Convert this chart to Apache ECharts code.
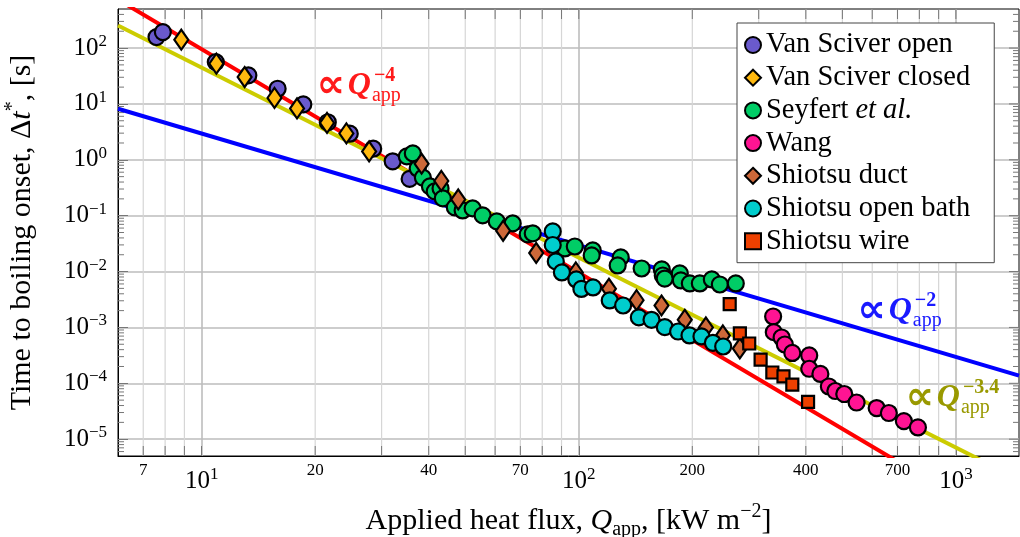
<!DOCTYPE html>
<html><head><meta charset="utf-8">
<script src="https://cdn.jsdelivr.net/npm/echarts@6/dist/echarts.min.js"></script>
<style>html,body{margin:0;padding:0;background:#fff}#c{width:1020px;height:537px}</style>
</head><body><div id="c"></div><script>
// ---- data (Q_app [kW m^-2], Δt* [s]) ----
const vanSciverOpen = [[7.59,157],[7.89,193],[10.9,56],[13.3,32.5],[15.9,18.7],[18.6,9.8],[21.6,4.7],[24.7,2.93],[28.5,1.58],[32.1,0.94],[35.6,0.455]];
const vanSciverClosed = [[8.83,141],[10.94,52.6],[13.0,30.3],[15.6,12.8],[17.9,8.3],[21.5,4.58],[24.2,2.97],[27.8,1.41]];
const seyfert = [[35.0,1.15],[36.3,1.30],[37.4,0.70],[38.6,0.48],[40.3,0.334],[41.5,0.272],[43.0,0.308],[43.6,0.204],[46.9,0.141],[49.2,0.124],[52.3,0.135],[55.6,0.101],[60.6,0.0789],[66.8,0.0727],[73.2,0.0462],[75.5,0.0482],[91.8,0.0259],[97.6,0.0281],[108.9,0.0239],[108.2,0.0194],[129.2,0.0179],[126.8,0.01285],[146.8,0.01135],[166,0.0109],[167,0.0085],[169,0.0075],[185.3,0.00924],[186.5,0.00693],[197,0.00612],[209.4,0.00612],[225.3,0.00722],[236.6,0.00587],[260.8,0.00612]];
const wang = [[327.6,0.00157],[328.9,0.000822],[345,0.000661],[351.9,0.000495],[368.3,0.000349],[408.4,0.000315],[408.4,0.000182],[437.2,0.000147],[460.4,8.77e-5],[479,7.28e-5],[505.8,6.43e-5],[545.3,4.53e-5],[616.4,3.61e-5],[664,2.94e-5],[727.8,2.11e-5],[793,1.62e-5]];
const shiotsuDuct = [[38.3,0.851],[43.2,0.419],[47.9,0.195],[63.0,0.0537],[77.1,0.0215],[98.2,0.00964],[120.2,0.00492],[142.3,0.00308],[165.7,0.00247],[191,0.00137],[217.3,0.000998],[241,0.000718],[267.3,0.00042]];
const shiotsuOpenBath = [[85.3,0.0522],[85.3,0.0299],[86.9,0.0152],[90.2,0.00964],[98.5,0.00722],[101.6,0.00488],[109.1,0.00519],[120.8,0.00304],[131.1,0.00247],[144.3,0.00151],[155.9,0.00137],[169.1,0.00101],[183.4,0.000845],[196.6,0.000718],[211.5,0.000689],[226.8,0.000531],[241.5,0.000456]];
const shiotsuWire = [[251.3,0.00261],[267.4,0.00078],[283.1,0.000516],[303.5,0.000265],[326,0.000156],[349,0.000133],[368.3,9.44e-5],[405.5,4.67e-5]];
// fit lines (end points)
const fitQ4 = [[6,736],[1470,2.05e-7]];
const fitQ34 = [[6,254],[1470,1.91e-6]];
const fitQ2 = [[6,8.2],[1470,1.37e-4]];
// annotation anchors
const labQ4 = [28.1,21.5], labQ2 = [763.9,0.00201], labQ34 = [1025,5.57e-5];
// axes / ticks
const xMin = 6, xMax = 1470, yMin = 5e-6, yMax = 500;
const xMajorTicks = [10,100,1000];
const xMinorTicks = [7,8,9,20,30,40,50,60,70,80,90,200,300,400,500,600,700,800,900];
const xMinorLabels = [7,20,40,70,200,400,700];
const yMajorTicks = [1e-5,1e-4,1e-3,1e-2,1e-1,1,10,100];
const yMinorTicks = [];
for (let d = -6; d <= 2; d++) for (let k = 2; k <= 9; k++) { const v = k * Math.pow(10, d); if (v > yMin * 1.0001 && v < yMax) yMinorTicks.push(+v.toPrecision(3)); }

const FONT = '"Liberation Serif", "DejaVu Serif", serif';
const chart = echarts.init(document.getElementById('c'));

function powLabel(v) {
  const e = Math.log10(v), r = Math.round(e);
  if (Math.abs(e - r) > 1e-6) return '';
  return '10{s|' + (r < 0 ? '\u2212' + (-r) : r) + '}';
}
const tickRich = { s: { fontSize: 17, fontFamily: FONT, verticalAlign: 'top', color: '#000', lineHeight: 30 } };

const xDeco = xMinorTicks.map(v => [v, 1, 0]).concat(xMajorTicks.map(v => [v, 1, 1]));
const yDeco = yMinorTicks.map(v => [10, v, 0]).concat(yMajorTicks.map(v => [10, v, 1]));

function annot(anchor, color, sup) {
  return {
    symbol: 'circle', symbolSize: 0, silent: true,
    data: [
      { coord: anchor, label: { show: true, position: 'inside', align: 'right', verticalAlign: 'middle', offset: [-26, 1],
        formatter: '\u221D', fontFamily: '"DejaVu Sans", sans-serif', fontSize: 40, fontWeight: 'bold', color } },
      { coord: anchor, label: { show: true, position: 'inside', align: 'right', verticalAlign: 'middle', offset: [0, 0],
        formatter: 'Q', fontFamily: FONT, fontSize: 32, fontWeight: 'bold', fontStyle: 'italic', color } },
      { coord: anchor, label: { show: true, position: 'inside', align: 'left', verticalAlign: 'middle', offset: [3, -10],
        formatter: sup, fontFamily: FONT, fontSize: 20, fontWeight: 'bold', color } },
      { coord: anchor, label: { show: true, position: 'inside', align: 'left', verticalAlign: 'middle', offset: [1, 10],
        formatter: 'app', fontFamily: FONT, fontSize: 20, color } }
    ]
  };
}

function scatter(name, data, symbol, size, color) {
  return { name, type: 'scatter', data, symbol, symbolSize: size, z: 5,
    itemStyle: { color, borderColor: '#000', borderWidth: 2.2, opacity: 1 }, emphasis: { disabled: true } };
}

const option = {
  animation: false,
  grid: { left: 118, right: 1, top: 9, bottom: 81, show: true, borderColor: '#000', borderWidth: 1, backgroundColor: 'transparent', containLabel: false, outerBoundsMode: 'none' },
  xAxis: {
    type: 'log', logBase: 10, min: xMin, max: xMax,
    axisLine: { show: true, lineStyle: { color: '#000', width: 1 } },
    axisTick: { show: true, inside: true, length: 10, lineStyle: { color: '#777' } },
    splitLine: { show: true, showMinLine: false, showMaxLine: false, lineStyle: { color: '#bdbdbd', width: 1.6 } },
    axisLabel: { margin: 10, formatter: powLabel, fontFamily: FONT, fontSize: 25, color: '#000', lineHeight: 30, rich: tickRich, showMinLabel: false, showMaxLabel: false },
    name: 'Applied heat flux, {i|Q}{sub|app}, [kW m{s|\u22122}]',
    nameLocation: 'middle', nameGap: 46,
    nameTextStyle: { fontFamily: FONT, fontSize: 30, color: '#000', lineHeight: 38, rich: {
      i: { fontFamily: FONT, fontSize: 30, fontStyle: 'italic', lineHeight: 38 },
      sub: { fontFamily: FONT, fontSize: 20, verticalAlign: 'bottom', lineHeight: 38 },
      s: { fontFamily: FONT, fontSize: 20, verticalAlign: 'top', lineHeight: 38 } } }
  },
  yAxis: {
    type: 'log', logBase: 10, min: yMin, max: yMax,
    axisLine: { show: true, lineStyle: { color: '#000', width: 1 } },
    axisTick: { show: true, inside: true, length: 10, lineStyle: { color: '#777' } },
    splitLine: { show: true, showMinLine: false, showMaxLine: false, lineStyle: { color: '#bdbdbd', width: 1.6 } },
    axisLabel: { margin: 11, formatter: powLabel, fontFamily: FONT, fontSize: 25, color: '#000', lineHeight: 30, rich: tickRich, showMinLabel: false, showMaxLabel: false },
    name: 'Time to boiling onset, \u0394{i|t}{s|*}, [s]',
    nameLocation: 'middle', nameGap: 77, nameRotate: 90,
    nameTextStyle: { fontFamily: FONT, fontSize: 30, color: '#000', lineHeight: 38, rich: {
      i: { fontFamily: FONT, fontSize: 30, fontStyle: 'italic', lineHeight: 38 },
      s: { fontFamily: FONT, fontSize: 20, verticalAlign: 'top', lineHeight: 38 } } }
  },
  legend: {
    orient: 'vertical', left: 737, top: 23, padding: [7.5, 24, 7, 7], itemGap: 3.7,
    itemWidth: 16, itemHeight: 16, borderColor: '#444', borderWidth: 1, backgroundColor: '#fff', borderRadius: 0,
    itemStyle: { borderColor: '#000', borderWidth: 2 },
    textStyle: { fontFamily: FONT, fontSize: 28.5, color: '#000', lineHeight: 28, rich: { it: { fontFamily: FONT, fontSize: 28.5, fontStyle: 'italic', lineHeight: 28 } } },
    formatter: n => n === 'Seyfert et al.' ? 'Seyfert {it|et al.}' : n,
    data: ['Van Sciver open', 'Van Sciver closed', 'Seyfert et al.', 'Wang', 'Shiotsu duct', 'Shiotsu open bath', 'Shiotsu wire'],
    selectedMode: false, z: 20
  },
  series: [
    { type: 'custom', coordinateSystem: 'cartesian2d', data: xDeco, z: 1, silent: true, clip: false,
      renderItem: (params, api) => {
        const cs = params.coordSys, v = api.value(0), major = api.value(2);
        const x = api.coord([v, 1])[0], top = cs.y, bot = cs.y + cs.height;
        const ch = [];
        if (!major) ch.push({ type: 'line', shape: { x1: x, y1: top, x2: x, y2: bot }, style: { stroke: '#d6d6d6', lineWidth: 1.2 } });
        if (!major) ch.push({ type: 'line', shape: { x1: x, y1: bot, x2: x, y2: bot - 10 }, style: { stroke: '#777', lineWidth: 1 } });
        ch.push({ type: 'line', shape: { x1: x, y1: top, x2: x, y2: top + 10 }, style: { stroke: '#777', lineWidth: 1 } });
        if (xMinorLabels.indexOf(v) >= 0) ch.push({ type: 'text', style: { text: String(v), x, y: bot + 15, align: 'center', verticalAlign: 'middle', font: '17px ' + FONT, fill: '#000' } });
        return { type: 'group', children: ch };
      } },
    { type: 'custom', coordinateSystem: 'cartesian2d', data: yDeco, z: 1, silent: true, clip: false,
      renderItem: (params, api) => {
        const cs = params.coordSys, major = api.value(2);
        const y = api.coord([10, api.value(1)])[1], l = cs.x, r = cs.x + cs.width;
        const len = major ? 10 : 6;
        const ch = [{ type: 'line', shape: { x1: r, y1: y, x2: r - len, y2: y }, style: { stroke: '#777', lineWidth: 1 } }];
        if (!major) ch.push({ type: 'line', shape: { x1: l, y1: y, x2: l + len, y2: y }, style: { stroke: '#777', lineWidth: 1 } });
        return { type: 'group', children: ch };
      } },
    { name: 'fitQ4', type: 'line', data: fitQ4, symbol: 'none', z: 3, silent: true, lineStyle: { color: '#ff0000', width: 4 }, markPoint: annot(labQ4, '#ff1a1a', '\u22124') },
    { name: 'fitQ34', type: 'line', data: fitQ34, symbol: 'none', z: 3, silent: true, lineStyle: { color: '#cccc00', width: 4 }, markPoint: annot(labQ34, '#999900', '\u22123.4') },
    { name: 'fitQ2', type: 'line', data: fitQ2, symbol: 'none', z: 3, silent: true, lineStyle: { color: '#0000ff', width: 4 }, markPoint: annot(labQ2, '#1a1aff', '\u22122') },
    scatter('Van Sciver open', vanSciverOpen, 'circle', 16, '#6a5acd'),
    scatter('Van Sciver closed', vanSciverClosed, 'diamond', [14, 20], '#ffb90f'),
    scatter('Seyfert et al.', seyfert, 'circle', 16, '#00cd66'),
    scatter('Wang', wang, 'circle', 16, '#ff1493'),
    scatter('Shiotsu duct', shiotsuDuct, 'diamond', [14, 20], '#cd6839'),
    scatter('Shiotsu open bath', shiotsuOpenBath, 'circle', 16, '#00cdcd'),
    scatter('Shiotsu wire', shiotsuWire, 'rect', 12, '#ee4000')
  ]
};
chart.setOption(option);
</script></body></html>
